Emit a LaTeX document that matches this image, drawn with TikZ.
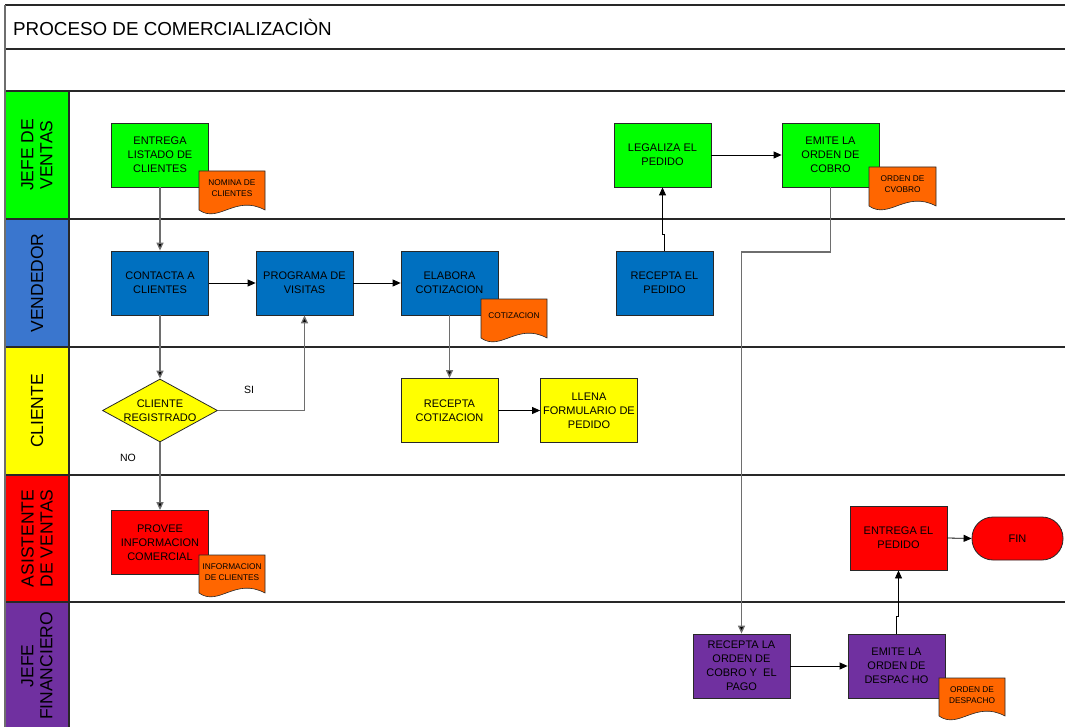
\documentclass[tikz,border=0pt]{standalone}
\usepackage{fontspec}
\setmainfont{Liberation Sans}
\usetikzlibrary{shapes.geometric,arrows.meta,calc}
\definecolor{cgreen}{RGB}{0,255,0}
\definecolor{cblue}{RGB}{0,112,192}
\definecolor{cbluehdr}{RGB}{58,118,206}
\definecolor{cyellow}{RGB}{255,255,0}
\definecolor{cred}{RGB}{255,0,0}
\definecolor{cpurple}{RGB}{112,48,160}
\definecolor{corange}{RGB}{255,102,0}
\definecolor{cgray}{RGB}{110,110,110}
\definecolor{cdark}{RGB}{40,40,40}
\newcommand\docsh[6]{%
  \filldraw[fill=corange,draw=cdark,line width=0.6pt]
    (#2,#3) -- (#4,#3) -- (#4,#5)
    .. controls ($(#2,#5)!0.55!(#4,#5)+(0,-16)$) and ($(#2,#5)!0.3!(#4,#5)+(0,14)$) ..
    (#2,#5) -- cycle;
  \node[doctext] (#1) at ($(#2,#3)!0.5!(#4,#3)+(0,17)$) {#6};}
\begin{document}
\begin{tikzpicture}[x=1pt,y=-1pt,
  box/.style={draw=cdark,line width=0.8pt,minimum width=97pt,minimum height=64pt,
    align=center,font=\fontsize{11}{14}\selectfont,inner sep=1pt},
  doctext/.style={align=center,font=\fontsize{8.3}{11}\selectfont,inner sep=0pt},
  lanetext/.style={rotate=90,align=center,font=\fontsize{17.5}{19}\selectfont,inner sep=0pt},
  laneline/.style={draw=cdark,line width=1.1pt},
  conn/.style={draw=black,line width=0.8pt,-{Triangle[length=8pt,width=7pt]}},
  gconn/.style={draw=cgray,line width=1.3pt,-{Triangle[length=8pt,width=7pt,fill=black]}},
  lbl/.style={font=\fontsize{10.5}{12}\selectfont,inner sep=0pt}]
\useasboundingbox (0,0) rectangle (1065,727);
% lane headers
\fill[cgreen] (5,91) rectangle (69,219);
\fill[cbluehdr] (5,219) rectangle (69,347);
\fill[cyellow] (5,347) rectangle (69,475);
\fill[cred] (5,475) rectangle (69,602);
\fill[cpurple] (5,602) rectangle (69,727);
% frame lines
\draw[laneline] (5,5) -- (1065,5);
\foreach \yy in {49,91,219,347,475,602} {\draw[laneline] (5,\yy) -- (1065,\yy);}
\draw[draw=cgray,line width=1.2pt] (5,5) -- (5,727);
\draw[laneline] (69,91) -- (69,727);
% title
\node[anchor=west,font=\fontsize{18.8}{22}\selectfont,inner sep=0pt] (title) at (13,27) {PROCESO DE COMERCIALIZACIÒN};
% lane labels
\node[lanetext] (hjv) at (37,155) {JEFE DE\\VENTAS};
\node[lanetext] (hven) at (37,283) {VENDEDOR};
\node[lanetext] (hcli) at (37,411) {CLIENTE};
\node[lanetext] (hasi) at (37,538.5) {ASISTENTE\\DE VENTAS};
\node[lanetext] (hfin) at (37,666) {JEFE\\FINANCIERO};
% boxes
\node[box,fill=cgreen] (entrega) at (160,155) {ENTREGA\\LISTADO DE\\CLIENTES};
\node[box,fill=cblue] (contacta) at (160,283) {CONTACTA A\\CLIENTES};
\node[box,fill=cblue] (programa) at (304.5,283) {PROGRAMA DE\\VISITAS};
\node[box,fill=cblue] (elabora) at (449.5,283) {ELABORA\\COTIZACION};
\node[box,fill=cgreen] (legaliza) at (662.5,155) {LEGALIZA EL\\PEDIDO};
\node[box,fill=cgreen] (emitecobro) at (830.5,155) {EMITE LA\\ORDEN DE\\COBRO};
\node[box,fill=cblue] (recped) at (664.5,283) {RECEPTA EL\\PEDIDO};
\node[diamond,draw=cdark,line width=0.8pt,fill=cyellow,minimum width=115pt,minimum height=63pt,
  aspect=1.83,inner sep=0pt,align=center,font=\fontsize{11}{14}\selectfont] (diam) at (160,410.5) {CLIENTE\\REGISTRADO};
\node[box,fill=cyellow] (reccot) at (449.5,410.5) {RECEPTA\\COTIZACION};
\node[box,fill=cyellow] (llena) at (589,410.5) {LLENA\\FORMULARIO DE\\PEDIDO};
\node[box,fill=cred] (provee) at (160,542.5) {PROVEE\\INFORMACION\\COMERCIAL};
\node[box,fill=cred] (entregaped) at (898.5,538) {ENTREGA EL\\PEDIDO};
\node[draw=cdark,line width=0.8pt,fill=cred,minimum width=91pt,minimum height=43pt,rounded corners=21pt,
  font=\fontsize{11}{14}\selectfont] (fin) at (1017.5,538.5) {FIN};
\node[box,fill=cpurple] (recorden) at (741.5,666) {RECEPTA LA\\ORDEN DE\\COBRO Y\ \ EL\\PAGO};
\node[box,fill=cpurple] (emitedesp) at (896.5,666) {EMITE LA\\ORDEN DE\\DESPAC HO};
% documents
\docsh{docnom}{199}{171}{265}{210}{NOMINA DE\\CLIENTES}
\docsh{doccot}{481}{299}{547}{338}{COTIZACION}
\docsh{doccob}{869}{167}{936}{206}{ORDEN DE\\CVOBRO}
\docsh{docinf}{199}{555}{265}{593}{INFORMACION\\DE CLIENTES}
\docsh{docdes}{939}{678}{1005}{716}{ORDEN DE\\DESPACHO}
% labels
\node[lbl] (si) at (249,390) {SI};
\node[lbl] (no) at (128,458) {NO};
% connectors
\draw[gconn] (entrega.south) -- (contacta.north);
\draw[conn] (contacta.east) -- (programa.west);
\draw[conn] (programa.east) -- (elabora.west);
\draw[gconn] (elabora.south) -- (reccot.north);
\draw[conn] (reccot.east) -- (llena.west);
\draw[gconn] (contacta.south) -- (diam.north);
\draw[gconn] (diam.south) -- (provee.north);
\draw[gconn] (diam.east) -| (programa.south);
\draw[conn] (recped.north) -- ++(0,-16) -| (legaliza.south);
\draw[conn] (legaliza.east) -- (emitecobro.west);
\coordinate (c1) at (741.5,252);
\draw[gconn] (emitecobro.south) |- (c1) -- (recorden.north);
\draw[conn] (recorden.east) -- (emitedesp.west);
\draw[conn] (emitedesp.north) -- ++(0,-17) -| (entregaped.south);
\draw[conn] (entregaped.east) -- (fin.west);
\end{tikzpicture}
\end{document}
